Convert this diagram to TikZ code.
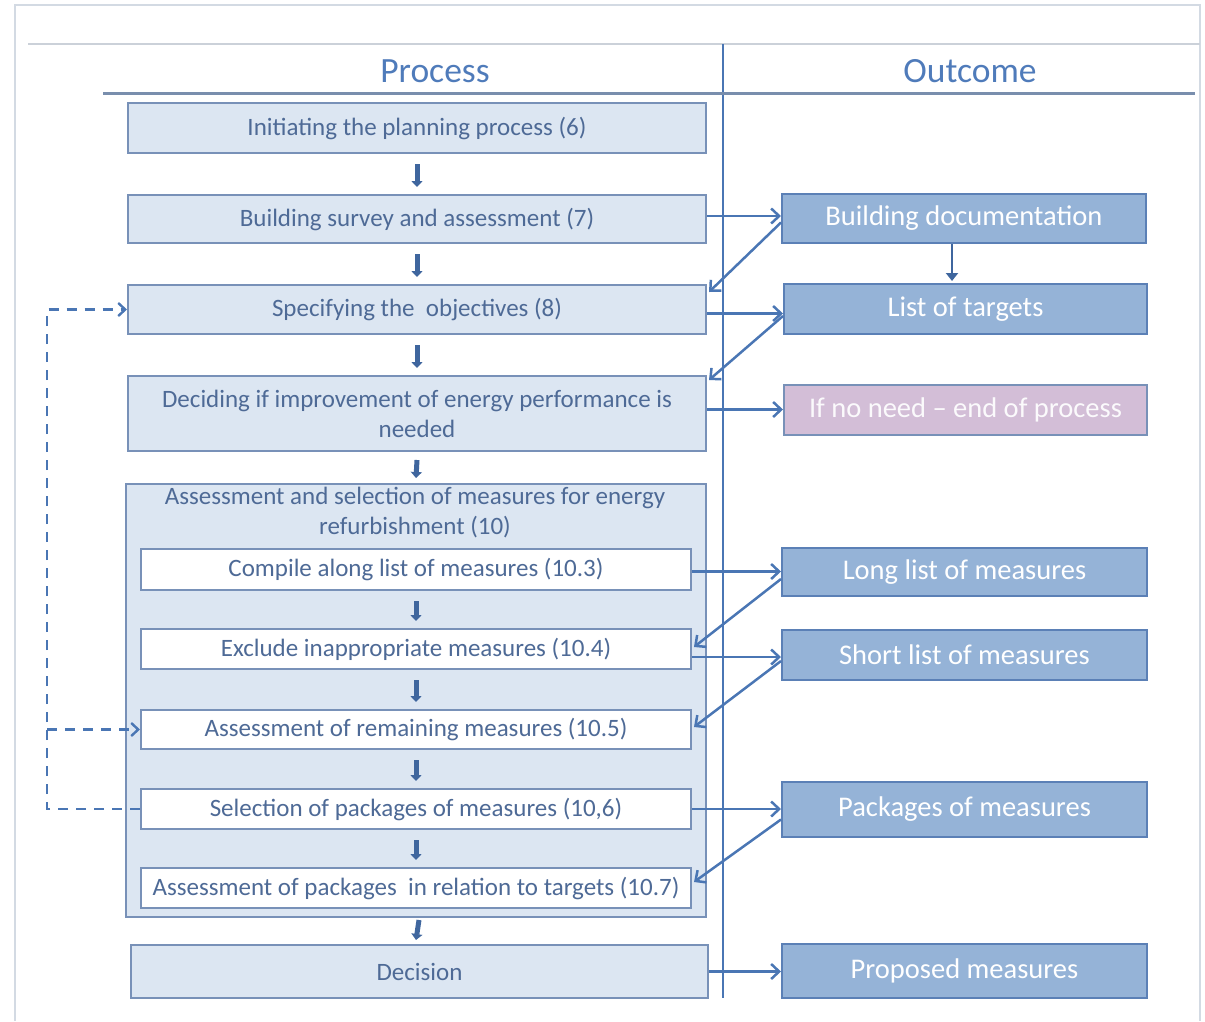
\documentclass[tikz,border=0pt]{standalone}
\usepackage{fontspec}
\setmainfont{Carlito}
\usetikzlibrary{arrows.meta,calc}
\definecolor{lfill}{HTML}{DCE6F2}
\definecolor{lborder}{HTML}{7891B8}
\definecolor{ltext}{HTML}{4E6A96}
\definecolor{rfill}{HTML}{95B3D7}
\definecolor{rborder}{HTML}{5B80B6}
\definecolor{pfill}{HTML}{D3BED7}
\definecolor{arr}{HTML}{4A76B4}
\definecolor{darr}{HTML}{3F669E}
\definecolor{head}{HTML}{4F7BBA}
\definecolor{frame}{HTML}{D3DAE3}
\begin{document}
\begin{tikzpicture}[x=1pt,y=-1pt,
  lbox/.style={draw=lborder,fill=lfill,line width=2pt,inner sep=0pt,text=ltext,
    font=\fontsize{25}{30}\selectfont,align=center,anchor=north west},
  wbox/.style={lbox,fill=white},
  rbox/.style={draw=rborder,fill=rfill,line width=2pt,inner sep=0pt,text=white,
    font=\fontsize{28.5}{32}\selectfont,align=center,anchor=north west},
  pbox/.style={rbox,fill=pfill,draw=lborder,text=white!92!pfill},
  downarr/.style={draw=darr,line width=5pt,-{Triangle[length=6pt,width=11pt]}},
  flow/.style={draw=arr,line width=2.5pt,-{Straight Barb[length=8pt,width=15pt,line width=2.5pt]}},
  loop/.style={draw=arr,line width=2.6pt,dash pattern=on 10pt off 8pt}
]
\useasboundingbox (0,0) rectangle (1205,1021);
% outer frame
\draw[frame,line width=1.5pt] (15,1021) -- (15,5) -- (1200,5) -- (1200,1021);
\draw[frame!90!gray,line width=1.5pt] (28,44) -- (1200,44);
\draw[arr,line width=1.5pt] (723,44) -- (723,998);
\draw[lborder!80!gray,line width=3pt] (103,93) -- (1195,93);
\node[text=head,font=\fontsize{35.5}{40}\selectfont] (hp) at (435,71) {Process};
\node[text=head,font=\fontsize{35.5}{40}\selectfont] (ho) at (970,71) {Outcome};

% left boxes
\node[lbox,minimum width=578pt,minimum height=50pt] (init) at (127,102) {Initiating the planning process (6)};
\node[lbox,minimum width=578pt,minimum height=48pt] (surv) at (127,194) {Building survey and assessment (7)};
\node[lbox,minimum width=578pt,minimum height=49pt] (spec) at (127,284) {Specifying the\ \ objectives (8)};
\node[lbox,minimum width=578pt,minimum height=75pt] (dec) at (127,375) {Deciding if improvement of energy performance is\\needed};
\node[lbox,minimum width=580pt,minimum height=433pt] (cont) at (125,483) {};
\node[text=ltext,font=\fontsize{25}{30}\selectfont,align=center,anchor=north] (conttitle) at (415,484) {Assessment and selection of measures for energy\\refurbishment (10)};
\node[wbox,minimum width=550pt,minimum height=41pt] (comp) at (140,548) {Compile along list of measures (10.3)};
\node[wbox,minimum width=550pt,minimum height=40pt] (excl) at (140,628) {Exclude inappropriate measures (10.4)};
\node[wbox,minimum width=550pt,minimum height=39pt] (rem) at (140,709) {Assessment of remaining measures (10.5)};
\node[wbox,minimum width=550pt,minimum height=40pt] (sel) at (140,788) {Selection of packages of measures (10,6)};
\node[wbox,minimum width=550pt,minimum height=40pt] (pack) at (140,867) {Assessment of packages\ \ in relation to targets (10.7)};
\node[lbox,minimum width=577pt,minimum height=53pt] (decis) at (130,944) {Decision};

% right boxes
\node[rbox,minimum width=364pt,minimum height=49pt] (bdoc) at (781,193) {Building documentation};
\node[rbox,minimum width=363pt,minimum height=50pt] (targ) at (783,283) {List of targets};
\node[pbox,minimum width=363pt,minimum height=50pt] (noneed) at (783,384) {If no need -- end of process};
\node[rbox,minimum width=365pt,minimum height=48pt] (long) at (781,547) {Long list of measures};
\node[rbox,minimum width=365pt,minimum height=50pt] (short) at (781,629) {Short list of measures};
\node[rbox,minimum width=365pt,minimum height=55pt] (pkgs) at (781,781) {Packages of measures};
\node[rbox,minimum width=365pt,minimum height=54pt] (prop) at (781,943) {Proposed measures};

% down arrows
\foreach \a/\b in {init/surv,surv/spec,spec/dec,comp/excl,excl/rem,rem/sel,sel/pack}
  \draw[downarr] ([yshift=-10pt]\a.south) -- ([yshift=7pt]\b.north);
\draw[downarr] ([yshift=-8pt]dec.south) -- ([yshift=5pt]cont.north);
\draw[downarr] ([xshift=3pt,yshift=-2pt]cont.south) -- ([yshift=4pt]cont.south |- decis.north);
\draw[draw=darr,line width=2.5pt,-{Triangle[length=8pt,width=12pt]}] (bdoc.south -| 952,0) -- ([yshift=2pt]targ.north -| 952,0);

% horizontal arrows
\draw[flow] ([yshift=3pt]surv.east) -- ([yshift=3pt]surv.east -| bdoc.west);
\draw[flow] ([yshift=-4pt]spec.east) -- ([yshift=-4pt]spec.east -| targ.west);
\draw[flow] ([yshift=4pt]dec.east) -- ([yshift=4pt]dec.east -| noneed.west);
\draw[flow] ([yshift=-2pt]comp.east) -- ([yshift=-2pt]comp.east -| long.west);
\draw[flow] ([yshift=-8pt]excl.east) -- ([yshift=-8pt]excl.east -| short.west);
\draw[flow] (sel.east) -- (sel.east -| pkgs.west);
\draw[flow] (decis.east) -- (decis.east -| prop.west);

% diagonal return arrows
\draw[flow] ([yshift=-4pt]bdoc.west) -- ([yshift=-8pt,xshift=2pt]spec.north east);
\draw[flow] ([yshift=-7pt]targ.west) -- ([yshift=-5pt,xshift=2pt]dec.north east);
\draw[flow] ([yshift=-7pt]long.west) -- ([yshift=-19pt,xshift=2pt]excl.north east);
\draw[flow] ([yshift=-6pt]short.west) -- ([yshift=-18pt,xshift=2pt]rem.north east);
\draw[flow] ([yshift=-10pt]pkgs.west) -- ([yshift=-15pt,xshift=2pt]pack.north east);

% dashed feedback loop
\coordinate (lx) at (47,0);
\draw[loop,-{Straight Barb[length=7pt,width=13pt,line width=2.4pt]}] (sel.west) -- (sel.west -| lx) |- (spec.west);
\draw[loop,-{Straight Barb[length=7pt,width=13pt,line width=2.4pt]}] (rem.west -| lx) -- (rem.west);
\end{tikzpicture}
\end{document}
